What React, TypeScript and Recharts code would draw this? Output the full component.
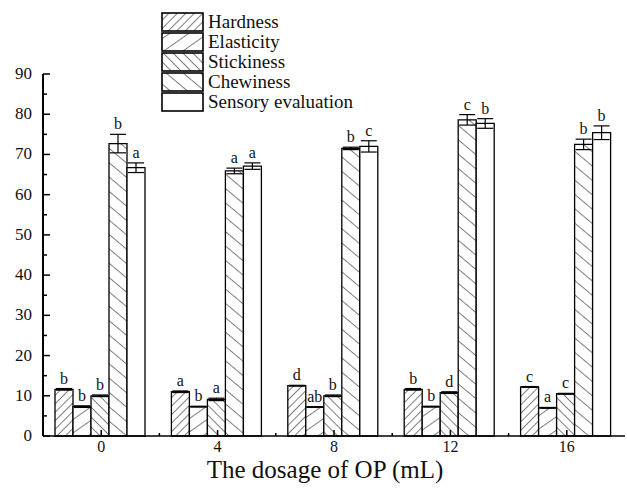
import React from 'react';
import { BarChart, Bar, XAxis, YAxis, ErrorBar, LabelList, Legend, Label } from 'recharts';

const dosages = ['0', '4', '8', '12', '16'];

const hardness = [11.6, 11.0, 12.5, 11.6, 12.2];
const hardnessErr = [0.2, 0.2, 0.1, 0.2, 0.1];
const hardnessSig = ['b', 'a', 'd', 'b', 'c'];

const elasticity = [7.3, 7.3, 7.2, 7.3, 7.0];
const elasticityErr = [0.2, 0.1, 0.1, 0.1, 0.1];
const elasticitySig = ['b', 'b', 'ab', 'b', 'a'];

const stickiness = [10.0, 9.1, 10.0, 10.8, 10.5];
const stickinessErr = [0.2, 0.3, 0.2, 0.2, 0.1];
const stickinessSig = ['b', 'a', 'b', 'd', 'c'];

const chewiness = [72.7, 65.9, 71.5, 78.6, 72.5];
const chewinessErr = [2.3, 0.7, 0.3, 1.3, 1.3];
const chewinessSig = ['b', 'a', 'b', 'c', 'b'];

const sensory = [66.7, 67.1, 72.0, 77.7, 75.4];
const sensoryErr = [1.2, 0.8, 1.4, 1.2, 1.7];
const sensorySig = ['a', 'a', 'c', 'b', 'b'];

const yTicks = [0, 5, 10, 15, 20, 25, 30, 35, 40, 45, 50, 55, 60, 65, 70, 75, 80, 85, 90];

const FONT = "'Liberation Serif', 'Times New Roman', serif";
const W = 627;
const H = 493;
const MARGIN = { top: 74, right: 2, bottom: 0, left: 0 };
const Y_AXIS_W = 43;
const X_AXIS_H = 57;
const PLOT_H = H - MARGIN.top - MARGIN.bottom - X_AXIS_H;
const PLOT_W = W - MARGIN.left - MARGIN.right - Y_AXIS_W;
const PX = PLOT_H / 90;
const BAND = PLOT_W / dosages.length;

const series = [
  { key: 'hardness', name: 'Hardness', fill: 'url(#hatchHard)', err: hardnessErr, sig: hardnessSig },
  { key: 'elasticity', name: 'Elasticity', fill: 'url(#hatchElas)', err: elasticityErr, sig: elasticitySig },
  { key: 'stickiness', name: 'Stickiness', fill: 'url(#hatchStick)', err: stickinessErr, sig: stickinessSig },
  { key: 'chewiness', name: 'Chewiness', fill: 'url(#hatchChew)', err: chewinessErr, sig: chewinessSig },
  { key: 'sensory', name: 'Sensory evaluation', fill: '#ffffff', err: sensoryErr, sig: sensorySig },
];

const data = dosages.map((d, i) => ({
  dose: d,
  hardness: hardness[i],
  hardnessErr: hardnessErr[i],
  elasticity: elasticity[i],
  elasticityErr: elasticityErr[i],
  stickiness: stickiness[i],
  stickinessErr: stickinessErr[i],
  chewiness: chewiness[i],
  chewinessErr: chewinessErr[i],
  sensory: sensory[i],
  sensoryErr: sensoryErr[i],
}));

// letter above the error bar
const makeSigLabel = (sig: string[], err: number[]) => (props: any) => {
  const { x, y, width, index } = props;
  if (index == null) return null;
  const top = y - err[index] * PX;
  return (
    <text x={x + width / 2} y={top - 5} textAnchor="middle" fontSize={16} fontFamily={FONT} fill="#111">
      {sig[index]}
    </text>
  );
};

const YTick = (props: any) => {
  const { x, y, payload } = props;
  const major = payload.value % 10 === 0;
  return (
    <g>
      <line x1={x} x2={x + (major ? 7 : 4)} y1={y} y2={y} stroke="#000" strokeWidth={1.5} />
      {major && (
        <text x={x - 11} y={y + 5} textAnchor="end" fontSize={17} fontFamily={FONT} fill="#111">
          {payload.value}
        </text>
      )}
    </g>
  );
};

const XTick = (props: any) => {
  const { x, y, payload, index } = props;
  const half = BAND / 2;
  return (
    <g>
      <line x1={x} x2={x} y1={y} y2={y - 6} stroke="#000" strokeWidth={1.5} />
      {index < dosages.length - 1 && (
        <line x1={x + half} x2={x + half} y1={y} y2={y - 3} stroke="#000" strokeWidth={1.5} />
      )}
      <text x={x} y={y + 16} textAnchor="middle" fontSize={16} fontFamily={FONT} fill="#111">
        {payload.value}
      </text>
    </g>
  );
};

const LegendBox = () => (
  <svg width={240} height={102}>
    {series.map((s, i) => (
      <g key={s.key}>
        <rect x={1} y={i * 20 + 1} width={41} height={18} fill={s.fill} stroke="#000" strokeWidth={1.6} />
        <text x={47} y={i * 20 + 16} fontSize={19} fontFamily={FONT} fill="#111">
          {s.name}
        </text>
      </g>
    ))}
  </svg>
);

const Hatch = ({ id, gap, angle, width = 1 }: { id: string; gap: number; angle: number; width?: number }) => (
  <pattern id={id} patternUnits="userSpaceOnUse" width={gap} height={gap} patternTransform={`rotate(${angle})`}>
    <rect width={gap} height={gap} fill="#fff" />
    <line x1={0} y1={0} x2={0} y2={gap} stroke="#000" strokeWidth={width} />
  </pattern>
);

export default function App() {
  return (
    <div style={{ position: 'absolute', left: 0, top: 0, width: W, height: H, background: '#fff' }}>
      <BarChart width={W} height={H} data={data} margin={MARGIN} barGap={0} barCategoryGap={12}>
        <defs>
          <Hatch id="hatchHard" gap={6} angle={45} />
          <Hatch id="hatchElas" gap={11} angle={55} />
          <Hatch id="hatchStick" gap={7} angle={-45} />
          <Hatch id="hatchChew" gap={11} angle={-50} />
        </defs>
        <XAxis
          dataKey="dose"
          height={X_AXIS_H}
          axisLine={{ stroke: '#000', strokeWidth: 1.5 }}
          tickLine={false}
          tickSize={0}
          tickMargin={0}
          tick={<XTick />}
          interval={0}
        >
          <Label
            value="The dosage of OP (mL)"
            position="insideBottom"
            offset={15}
            dx={-9}
            style={{ fontSize: 25, fontFamily: FONT, fill: '#111' }}
          />
        </XAxis>
        <YAxis
          width={Y_AXIS_W}
          domain={[0, 90]}
          ticks={yTicks}
          interval={0}
          axisLine={{ stroke: '#000', strokeWidth: 2 }}
          tickLine={false}
          tickSize={0}
          tickMargin={0}
          tick={<YTick />}
        />
        <Legend
          layout="vertical"
          align="center"
          verticalAlign="middle"
          content={<LegendBox />}
          wrapperStyle={{ left: 161, top: 12, width: 240, height: 102 }}
        />
        {series.map((s) => (
          <Bar
            key={s.key}
            dataKey={s.key}
            name={s.name}
            fill={s.fill}
            stroke="#000"
            strokeWidth={1.3}
            isAnimationActive={false}
          >
            <ErrorBar dataKey={`${s.key}Err`} width={8} stroke="#000" strokeWidth={1.2} direction="y" />
            <LabelList dataKey={s.key} content={makeSigLabel(s.sig, s.err)} />
          </Bar>
        ))}
      </BarChart>
    </div>
  );
}
